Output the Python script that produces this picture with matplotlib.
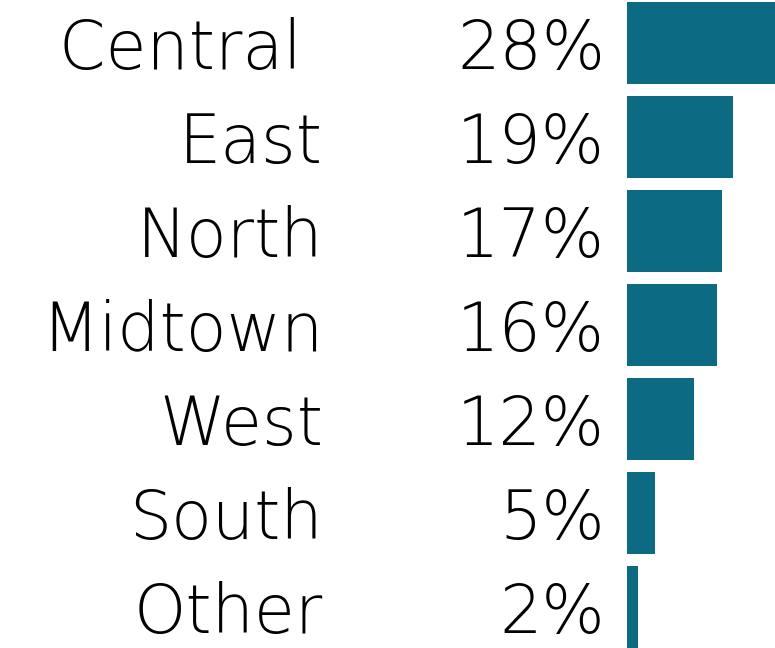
import matplotlib
matplotlib.use("Agg")
from matplotlib import pyplot as plt

regions = ["Central ", "East", "North", "Midtown", "West", "South", "Other"]
shares = [28, 19, 17, 16, 12, 5, 2]
share_labels = ["28%", "19%", "17%", "16%", "12%", "5%", "2%"]

bar_color = "#0C6A82"

fig = plt.figure(figsize=(7.75, 6.48), dpi=100)
ax = fig.add_axes([0, 0, 1, 1])

ypos = list(range(len(regions)))
ax.barh(ypos, shares, height=0.87, color=bar_color)

# 627 px -> 0, 5.6 px per percent
ax.set_xlim(-627 / 5.6, 148 / 5.6)
ax.set_ylim((648 - 43) / 94, -43 / 94)

for i in ypos:
    ax.annotate(share_labels[i], xy=(0, i), xytext=(-22, -7), textcoords="offset pixels",
                ha="right", va="center", fontsize=48, fontweight="light", color="black")
    ax.annotate(regions[i], xy=(0, i), xytext=(-304, -7), textcoords="offset pixels",
                ha="right", va="center", fontsize=48, fontweight="light", color="black")

ax.axis("off")
fig.savefig("out.png", dpi=100)
